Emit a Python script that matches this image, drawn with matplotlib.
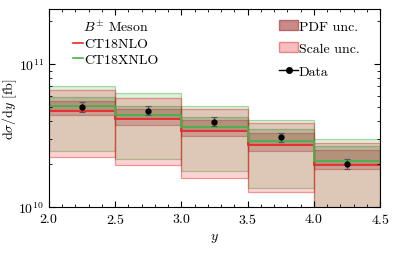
import numpy as np
import matplotlib
matplotlib.use("Agg")
import matplotlib.pyplot as plt
from matplotlib.lines import Line2D
from matplotlib.patches import Patch
from matplotlib.ticker import LogLocator, NullFormatter, MultipleLocator

plt.rcParams['font.family'] = 'serif'
plt.rcParams['font.serif'] = ['cmr10', 'DejaVu Serif']
plt.rcParams['mathtext.fontset'] = 'cm'
plt.rcParams['axes.formatter.use_mathtext'] = True
plt.rcParams['font.size'] = 10

# rapidity bins
edges = [2.0, 2.5, 3.0, 3.5, 4.0, 4.5]

# CT18NLO (red)
nlo_central = [4.67e10, 4.12e10, 3.42e10, 2.71e10, 1.96e10]
nlo_pdf_up = [5.54e10, 4.85e10, 4.06e10, 3.32e10, 2.50e10]
nlo_pdf_dn = [4.43e10, 3.77e10, 3.15e10, 2.48e10, 1.84e10]
nlo_scale_up = [6.58e10, 5.75e10, 4.85e10, 3.87e10, 2.80e10]
nlo_scale_dn = [2.25e10, 1.97e10, 1.61e10, 1.27e10, 0.90e10]

# CT18XNLO (green)
xnlo_central = [5.11e10, 4.42e10, 3.64e10, 2.88e10, 2.10e10]
xnlo_pdf_up = [5.85e10, 5.11e10, 4.28e10, 3.51e10, 2.67e10]
xnlo_pdf_dn = [4.77e10, 4.19e10, 3.45e10, 2.74e10, 2.00e10]
xnlo_scale_up = [7.05e10, 6.24e10, 5.11e10, 4.08e10, 2.97e10]
xnlo_scale_dn = [2.48e10, 2.17e10, 1.78e10, 1.36e10, 0.95e10]

# measured data
data_y = [5.00e10, 4.71e10, 3.93e10, 3.07e10, 2.00e10]
data_up = [5.45e10, 5.06e10, 4.24e10, 3.28e10, 2.17e10]
data_dn = [4.59e10, 4.40e10, 3.70e10, 2.86e10, 1.84e10]

red = '#e8292b'
green = '#4caf4a'

fig = plt.figure(figsize=(4.07, 2.55), dpi=100)
ax = fig.add_axes([0.120, 0.184, 0.814, 0.777])

left = np.array(edges[:-1])
width = np.diff(edges)


def band(lo, hi, face, alpha, edge, ealpha):
    lo = np.array(lo)
    hi = np.array(hi)
    ax.bar(left, hi - lo, width=width, bottom=lo, align='edge',
           color=matplotlib.colors.to_rgba(face, alpha),
           edgecolor=matplotlib.colors.to_rgba(edge, ealpha), linewidth=0.9)


# scale uncertainty bands
band(xnlo_scale_dn, xnlo_scale_up, green, 0.2, green, 0.45)
band(nlo_scale_dn, nlo_scale_up, red, 0.2, red, 0.45)
# pdf uncertainty bands
band(xnlo_pdf_dn, xnlo_pdf_up, '#3a7a2e', 0.22, '#3a7a2e', 0.35)
band(nlo_pdf_dn, nlo_pdf_up, '#9e2b2b', 0.26, '#9e2b2b', 0.35)

# central values
ax.stairs(nlo_central, edges, color=red, linewidth=1.3, baseline=None)
ax.stairs(xnlo_central, edges, color=green, linewidth=1.3, baseline=None)

centers = left + width / 2
yerr = [np.array(data_y) - np.array(data_dn), np.array(data_up) - np.array(data_y)]
ax.errorbar(centers, data_y, yerr=yerr, fmt='o', color='black', ms=3.5,
            ecolor='#555555', elinewidth=0.8, capsize=2, capthick=0.8, zorder=5)

ax.set_yscale('log')
ax.set_xlim(2.0, 4.5)
ax.set_ylim(1e10, 2.43e11)
ax.xaxis.set_major_locator(MultipleLocator(0.5))
ax.xaxis.set_minor_locator(MultipleLocator(0.1))
ax.yaxis.set_major_locator(LogLocator(base=10))
ax.yaxis.set_minor_locator(LogLocator(base=10, subs=np.arange(2, 10)))
ax.yaxis.set_minor_formatter(NullFormatter())
ax.tick_params(which='both', direction='in', top=True, right=True)
ax.tick_params(which='major', length=4)
ax.tick_params(which='minor', length=2)

ax.set_xlabel('$y$')
ax.set_ylabel(r'd$\sigma$/d$y$ [fb]')
ax.yaxis.set_label_coords(-0.09, 0.5)

h1 = [Line2D([], [], color=red, lw=1.2), Line2D([], [], color=green, lw=1.2)]
leg1 = ax.legend(h1, ['CT18NLO', 'CT18XNLO'], title=r'$B^{\pm}$ Meson',
                 loc='upper left', bbox_to_anchor=(0.055, 0.978),
                 frameon=False, handlelength=0.75,
                 handletextpad=0.12, labelspacing=0.2, borderaxespad=0.0)
ax.add_artist(leg1)

h2 = [Patch(facecolor=matplotlib.colors.to_rgba('#9e2b2b', 0.55),
            edgecolor=matplotlib.colors.to_rgba('#9e2b2b', 0.6)),
      Patch(facecolor=matplotlib.colors.to_rgba(red, 0.3),
            edgecolor=matplotlib.colors.to_rgba(red, 0.5)),
      Line2D([], [], color='black', marker='o', ms=4, lw=1)]
ax.legend(h2, ['PDF unc.', 'Scale unc.', 'Data'], loc='upper right',
          bbox_to_anchor=(0.955, 0.972), frameon=False, handlelength=1.3,
          handletextpad=0.1, labelspacing=0.7, borderaxespad=0.0)

fig.savefig('out.png', dpi=100)
